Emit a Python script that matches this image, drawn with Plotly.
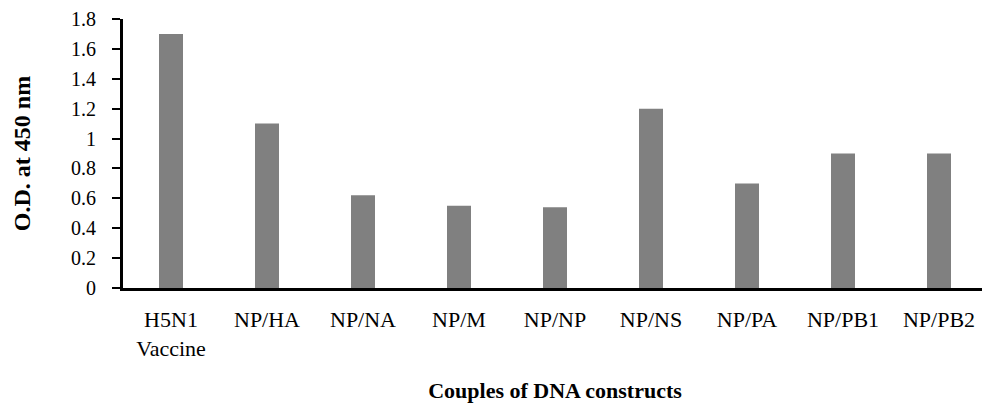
import plotly.graph_objects as go

categories = ["H5N1<br>Vaccine", "NP/HA", "NP/NA", "NP/M", "NP/NP", "NP/NS", "NP/PA", "NP/PB1", "NP/PB2"]
values = [1.7, 1.1, 0.62, 0.55, 0.54, 1.2, 0.7, 0.9, 0.9]
y_ticks = [0, 0.2, 0.4, 0.6, 0.8, 1, 1.2, 1.4, 1.6, 1.8]
y_tick_text = ["0", "0.2", "0.4", "0.6", "0.8", "1", "1.2", "1.4", "1.6", "1.8"]

fig = go.Figure(go.Bar(x=categories, y=values, marker=dict(color="#808080", line=dict(width=0))))

serif = "Liberation Serif, Times New Roman, serif"
fig.update_layout(
    width=990, height=408,
    margin=dict(l=115, r=11, t=11, b=128),
    paper_bgcolor="white", plot_bgcolor="white",
    bargap=0.75, showlegend=False,
    font=dict(family=serif, color="black", size=19),
)
fig.update_xaxes(
    automargin=False,
    showline=True, linecolor="black", linewidth=3, ticks="", showgrid=False,
    tickfont=dict(family=serif, size=22), ticklabelstandoff=10,
    title=dict(text="<b>Couples of DNA constructs</b>", font=dict(family=serif, size=22), standoff=23),
)
fig.update_yaxes(
    automargin=False, ticklabeloverflow="allow",
    range=[0, 1.8], tickvals=y_ticks, ticktext=y_tick_text,
    showline=True, linecolor="black", linewidth=3, ticks="outside", ticklen=8, tickwidth=2, tickcolor="black",
    showgrid=False, zeroline=False, tickfont=dict(family=serif, size=20), ticklabelstandoff=12,
    title=dict(text="<b>O.D. at 450 nm</b>", font=dict(family=serif, size=24), standoff=34),
)
fig.write_html("out.html")
